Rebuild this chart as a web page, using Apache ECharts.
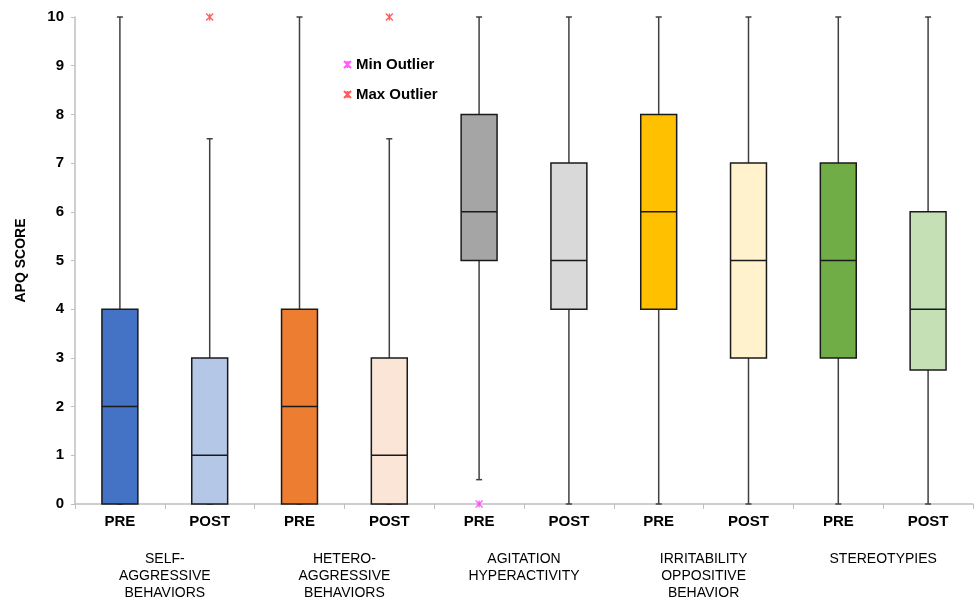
<!DOCTYPE html>
<html>
<head>
<meta charset="utf-8">
<script src="https://cdn.jsdelivr.net/npm/echarts@6/dist/echarts.min.js"></script>
<style>
html, body { margin: 0; padding: 0; background: #fff; }
#chart { width: 976px; height: 600px; }
</style>
</head>
<body>
<div id="chart"></div>
<script>
// 数据
const phases = ['PRE', 'POST', 'PRE', 'POST', 'PRE', 'POST', 'PRE', 'POST', 'PRE', 'POST'];
const groups = ['SELF-\nAGGRESSIVE\nBEHAVIORS', 'HETERO-\nAGGRESSIVE\nBEHAVIORS', 'AGITATION\nHYPERACTIVITY', 'IRRITABILITY\nOPPOSITIVE\nBEHAVIOR', 'STEREOTYPIES'];
const whiskerLow = [0, 0, 0, 0, 0.5, 0, 0, 0, 0, 0];
const q1 = [0, 0, 0, 0, 5, 4, 4, 3, 3, 2.75];
const median = [2, 1, 2, 1, 6, 5, 6, 5, 5, 4];
const q3 = [4, 3, 4, 3, 8, 7, 8, 7, 7, 6];
const whiskerHigh = [10, 7.5, 10, 7.5, 10, 10, 10, 10, 10, 10];
const minOutliers = [[4, 0]];
const maxOutliers = [[1, 10], [3, 10]];

const boxColors = ['#4472C4', '#B4C7E7', '#ED7D31', '#FBE5D6', '#A5A5A5', '#D9D9D9', '#FFC000', '#FFF2CC', '#70AD47', '#C5E0B4'];

const chart = echarts.init(document.getElementById('chart'));

const boxData = phases.map(function (p, i) {
    return [i, whiskerLow[i], q1[i], median[i], q3[i], whiskerHigh[i]];
});

function renderBox(params, api) {
    const i = api.value(0);
    const band = api.size([1, 0])[0];
    const w = band * 0.4;
    const cx = api.coord([i, 0])[0];
    const yLow = api.coord([i, api.value(1)])[1];
    const yQ1 = api.coord([i, api.value(2)])[1];
    const yMed = api.coord([i, api.value(3)])[1];
    const yQ3 = api.coord([i, api.value(4)])[1];
    const yHigh = api.coord([i, api.value(5)])[1];
    const cap = 3;
    const whiskerStyle = { stroke: '#404040', lineWidth: 1.5 };
    return {
        type: 'group',
        children: [
            { type: 'line', shape: { x1: cx, y1: yHigh, x2: cx, y2: yQ3 }, style: whiskerStyle },
            { type: 'line', shape: { x1: cx - cap, y1: yHigh, x2: cx + cap, y2: yHigh }, style: whiskerStyle },
            { type: 'line', shape: { x1: cx, y1: yLow, x2: cx, y2: yQ1 }, style: whiskerStyle },
            { type: 'line', shape: { x1: cx - cap, y1: yLow, x2: cx + cap, y2: yLow }, style: whiskerStyle },
            {
                type: 'rect',
                shape: { x: cx - w / 2, y: yQ3, width: w, height: yQ1 - yQ3 },
                style: { fill: boxColors[i], stroke: '#1a1a1a', lineWidth: 1.5 }
            },
            { type: 'line', shape: { x1: cx - w / 2, y1: yMed, x2: cx + w / 2, y2: yMed }, style: { stroke: '#1a1a1a', lineWidth: 1.5 } }
        ]
    };
}

const xSymbol = 'path://M0,0L10,10M10,0L0,10M5,0L5,10';

const option = {
    animation: false,
    textStyle: { fontFamily: 'Liberation Sans, Arial, sans-serif' },
    grid: { left: 75, right: 3, top: 17, bottom: 96, outerBoundsMode: 'none' },
    legend: {
        orient: 'vertical',
        left: 338,
        top: 52,
        itemGap: 15,
        itemWidth: 7,
        itemHeight: 7,
        textStyle: { fontSize: 15, fontWeight: 'bold', color: '#000' },
        data: ['Min Outlier', 'Max Outlier']
    },
    xAxis: [
        {
            type: 'category',
            data: phases,
            boundaryGap: true,
            axisLine: { lineStyle: { color: '#bfbfbf', width: 1.5 } },
            axisTick: { show: true, length: 5, lineStyle: { color: '#bfbfbf' } },
            axisLabel: { fontSize: 15, fontWeight: 'bold', color: '#000', margin: 10, interval: 0 }
        },
        {
            type: 'category',
            data: groups,
            position: 'bottom',
            offset: 39,
            axisLine: { show: false },
            axisTick: { show: false },
            axisLabel: { fontSize: 14, color: '#000', lineHeight: 17, margin: 8, interval: 0, verticalAlign: 'top' }
        }
    ],
    yAxis: {
        type: 'value',
        min: 0,
        max: 10,
        interval: 1,
        name: 'APQ SCORE',
        nameLocation: 'middle',
        nameGap: 47,
        nameTextStyle: { fontSize: 14, fontWeight: 'bold', color: '#000' },
        axisLine: { show: true, lineStyle: { color: '#bfbfbf', width: 1.5 } },
        axisTick: { show: true, length: 4, lineStyle: { color: '#bfbfbf' } },
        axisLabel: { fontSize: 15, fontWeight: 'bold', color: '#000', margin: 11 },
        splitLine: { show: false }
    },
    series: [
        {
            name: 'APQ',
            type: 'custom',
            renderItem: renderBox,
            encode: { x: 0, y: [1, 2, 3, 4, 5] },
            data: boxData
        },
        {
            name: 'Min Outlier',
            type: 'scatter',
            symbol: xSymbol,
            symbolSize: 7,
            itemStyle: { color: '#FF33FF', borderColor: '#FF33FF', borderWidth: 1.3 },
            data: minOutliers,
            z: 5
        },
        {
            name: 'Max Outlier',
            type: 'scatter',
            symbol: xSymbol,
            symbolSize: 7,
            itemStyle: { color: '#FF3333', borderColor: '#FF3333', borderWidth: 1.3 },
            data: maxOutliers,
            z: 5
        }
    ]
};

chart.setOption(option);
</script>
</body>
</html>
